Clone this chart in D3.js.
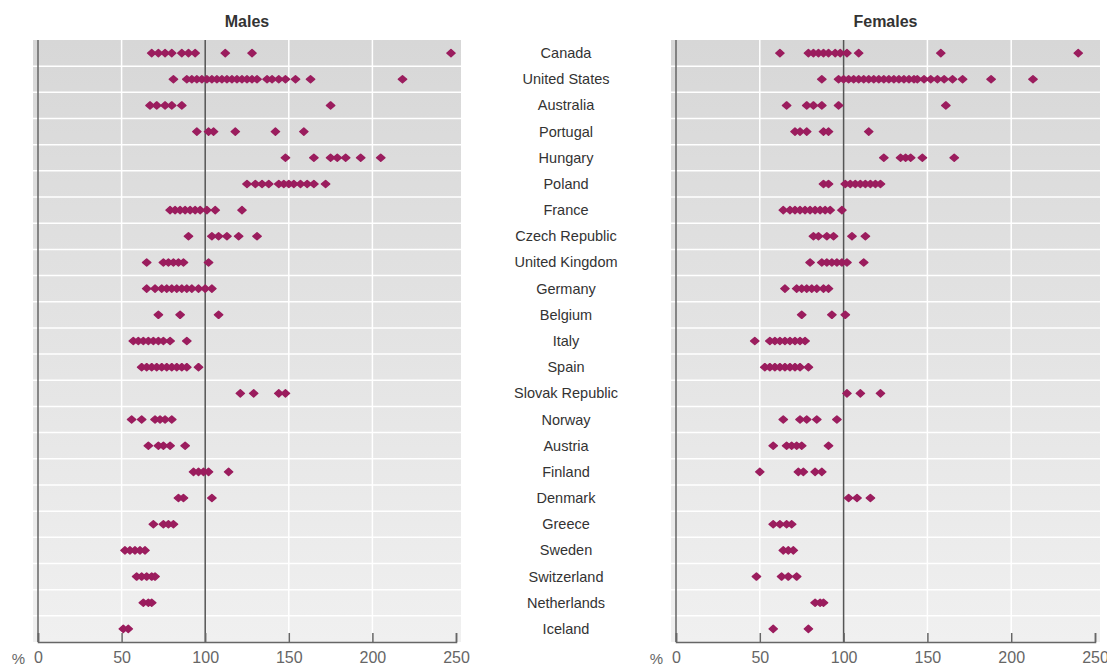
<!DOCTYPE html>
<html>
<head>
<meta charset="utf-8">
<script src="https://cdn.jsdelivr.net/npm/d3@7"></script>
<style>
  body { margin: 0; background: #fff; }
  text { font-family: "Liberation Sans", Arial, sans-serif; }
</style>
</head>
<body>
<div class="canvas"></div>
<script>
// countries, top to bottom
var countries = ["Canada", "United States", "Australia", "Portugal", "Hungary", "Poland",
  "France", "Czech Republic", "United Kingdom", "Germany", "Belgium", "Italy", "Spain",
  "Slovak Republic", "Norway", "Austria", "Finland", "Denmark", "Greece", "Sweden",
  "Switzerland", "Netherlands", "Iceland"];

// males, % (one list of points per country)
var males = [
  [68, 72, 76, 80, 86, 90, 94, 112, 128, 247],
  [81, 89, 92, 95, 98, 101, 104, 107, 110, 113, 116, 119, 122, 125, 128, 131, 137, 140, 144, 148, 154, 163, 218],
  [67, 71, 76, 80, 86, 175],
  [95, 102, 105, 118, 142, 159],
  [148, 165, 175, 179, 184, 193, 205],
  [125, 130, 134, 138, 144, 147, 150, 153, 157, 161, 165, 172],
  [79, 82, 85, 88, 91, 94, 97, 101, 106, 122],
  [90, 104, 108, 113, 120, 131],
  [65, 75, 78, 81, 84, 87, 102],
  [65, 70, 74, 77, 80, 83, 86, 89, 92, 96, 100, 104],
  [72, 85, 108],
  [57, 60, 63, 66, 69, 72, 75, 79, 89],
  [62, 65, 68, 71, 74, 77, 80, 83, 86, 89, 96],
  [121, 129, 144, 148],
  [56, 62, 70, 73, 76, 80],
  [66, 72, 75, 79, 88],
  [93, 96, 99, 102, 114],
  [84, 87, 104],
  [69, 75, 78, 81],
  [52, 55, 58, 61, 64],
  [59, 62, 65, 68, 70],
  [63, 66, 68],
  [51, 54]
];

// females, %
var females = [
  [62, 79, 82, 85, 88, 91, 95, 98, 102, 109, 158, 240],
  [87, 97, 100, 103, 106, 109, 112, 115, 118, 121, 124, 127, 130, 133, 136, 139, 142, 144, 148, 152, 156, 160, 165, 171, 188, 213],
  [66, 78, 82, 87, 97, 161],
  [71, 74, 78, 88, 91, 115],
  [124, 134, 137, 140, 147, 166],
  [88, 91, 101, 104, 107, 110, 113, 116, 119, 122],
  [64, 68, 71, 74, 77, 80, 83, 86, 89, 92, 99],
  [82, 85, 90, 94, 105, 113],
  [80, 87, 90, 93, 96, 99, 102, 112],
  [65, 72, 75, 78, 81, 84, 88, 91],
  [75, 93, 101],
  [47, 56, 59, 62, 65, 68, 71, 74, 77],
  [53, 56, 59, 62, 65, 68, 71, 74, 79],
  [102, 110, 122],
  [64, 74, 78, 84, 96],
  [58, 66, 69, 72, 75, 91],
  [50, 73, 76, 83, 87],
  [103, 108, 116],
  [58, 62, 66, 69],
  [64, 67, 70],
  [48, 63, 67, 72],
  [83, 86, 88],
  [58, 79]
];

var xTicks = [0, 50, 100, 150, 200, 250];
var gridTicks = [50, 150, 200];

var W = 1107, H = 669;
var plotTop = 40, plotBottom = 642;
var dotColor = "#9b1d5e";

var svg = d3.select(".canvas")
  .append("svg")
  .attr("width", W)
  .attr("height", H);

// background shading, darker at the top
var grad = svg.append("defs").append("linearGradient")
  .attr("id", "bg").attr("x1", 0).attr("y1", 0).attr("x2", 0).attr("y2", 1);
grad.append("stop").attr("offset", "0%").attr("stop-color", "#d7d7d7");
grad.append("stop").attr("offset", "100%").attr("stop-color", "#f0f0f0");

var y = d3.scaleBand()
  .domain(countries)
  .range([plotTop, plotBottom])
  .padding(0);

function panel(title, values, x0, x1) {
  var x = d3.scaleLinear().domain([0, 250]).range([x0, x1]);
  var g = svg.append("g");

  g.append("rect")
    .attr("x", x(0) - 5)
    .attr("y", plotTop)
    .attr("width", x(250) - x(0) + 10)
    .attr("height", plotBottom - plotTop)
    .attr("fill", "url(#bg)");

  // white row separators
  g.selectAll("line.row")
    .data(countries.slice(1))
    .enter()
    .append("line")
      .attr("x1", x(0) - 5)
      .attr("x2", x(250) + 5)
      .attr("y1", d => y(d))
      .attr("y2", d => y(d))
      .attr("stroke", "#fff")
      .attr("stroke-width", 1.5);

  // white vertical gridlines
  g.selectAll("line.grid")
    .data(gridTicks)
    .enter()
    .append("line")
      .attr("x1", d => x(d))
      .attr("x2", d => x(d))
      .attr("y1", plotTop)
      .attr("y2", plotBottom)
      .attr("stroke", "#fff")
      .attr("stroke-width", 1.5);

  // reference line at 100
  g.append("line")
    .attr("x1", x(100)).attr("x2", x(100))
    .attr("y1", plotTop).attr("y2", plotBottom)
    .attr("stroke", "#555")
    .attr("stroke-width", 1.5);

  // left axis line
  g.append("line")
    .attr("x1", x(0)).attr("x2", x(0))
    .attr("y1", plotTop).attr("y2", plotBottom)
    .attr("stroke", "#666")
    .attr("stroke-width", 1.5);

  // bottom axis, ticks pointing up
  var ax = g.append("g")
    .attr("transform", "translate(0," + plotBottom + ")")
    .call(d3.axisBottom(x).tickValues(xTicks).tickSize(-9).tickPadding(10));
  ax.select(".domain").attr("stroke", "#666").attr("stroke-width", 1.5);
  ax.selectAll(".tick line").attr("stroke", "#666").attr("stroke-width", 1.5);
  ax.selectAll("text")
    .style("font-family", "'Liberation Sans', Arial, sans-serif")
    .style("font-size", "16px")
    .attr("fill", "#666");

  g.append("text")
    .attr("x", x(0) - 13)
    .attr("y", 664)
    .attr("text-anchor", "end")
    .style("font-size", "15px")
    .attr("fill", "#666")
    .text("%");

  // title
  g.append("text")
    .attr("x", (x(0) + x(250)) / 2)
    .attr("y", 27)
    .attr("text-anchor", "middle")
    .style("font-size", "16px")
    .style("font-weight", "bold")
    .attr("fill", "#333")
    .text(title);

  // points
  var pts = [];
  countries.forEach(function (c, i) {
    values[i].forEach(function (v) { pts.push({country: c, value: v}); });
  });
  var sym = d3.symbol().type(d3.symbolSquare).size(26);
  g.selectAll("path.dot")
    .data(pts)
    .enter()
    .append("path")
      .attr("d", sym)
      .attr("transform", d => "translate(" + x(d.value) + "," + (y(d.country) + y.bandwidth() / 2) + ") scale(1.15,1) rotate(45)")
      .attr("fill", dotColor)
      .attr("stroke", dotColor)
      .attr("stroke-width", 1.3)
      .attr("stroke-linejoin", "round");
}

panel("Males", males, 38, 456);
panel("Females", females, 676, 1095);

// country labels in the middle
svg.selectAll("text.country")
  .data(countries)
  .enter()
  .append("text")
    .attr("x", 566)
    .attr("y", d => y(d) + y.bandwidth() / 2 + 5)
    .attr("text-anchor", "middle")
    .style("font-size", "14.5px")
    .attr("fill", "#333")
    .text(d => d);
</script>
</body>
</html>
